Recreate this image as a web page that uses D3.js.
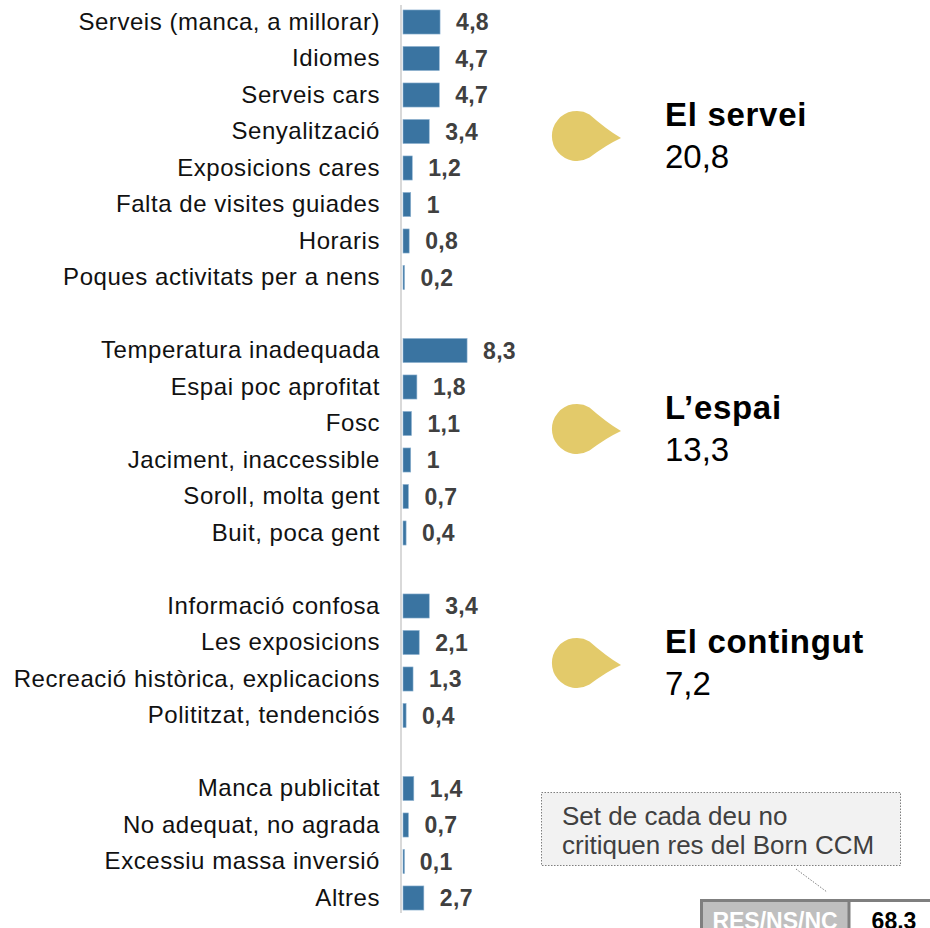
<!DOCTYPE html>
<html>
<head>
<meta charset="utf-8">
<script src="https://cdn.jsdelivr.net/npm/d3@7"></script>
<style>
  body { margin: 0; background: #fff; }
  svg { display: block; font-family: "Liberation Sans", Arial, sans-serif; }
</style>
</head>
<body>
<div id="chart"></div>
<script>
// data
var serveiLabels = ["Serveis (manca, a millorar)", "Idiomes", "Serveis cars", "Senyalització",
  "Exposicions cares", "Falta de visites guiades", "Horaris", "Poques activitats per a nens"];
var serveiValues = [4.8, 4.7, 4.7, 3.4, 1.2, 1, 0.8, 0.2];

var espaiLabels = ["Temperatura inadequada", "Espai poc aprofitat", "Fosc",
  "Jaciment, inaccessible", "Soroll, molta gent", "Buit, poca gent"];
var espaiValues = [8.3, 1.8, 1.1, 1, 0.7, 0.4];

var contingutLabels = ["Informació confosa", "Les exposicions",
  "Recreació històrica, explicacions", "Polititzat, tendenciós"];
var contingutValues = [3.4, 2.1, 1.3, 0.4];

var altresLabels = ["Manca publicitat", "No adequat, no agrada", "Excessiu massa inversió", "Altres"];
var altresValues = [1.4, 0.7, 0.1, 2.7];

var groupNames = ["El servei", "L\u2019espai", "El contingut"];
var groupTotals = ["20,8", "13,3", "7,2"];

var noteLines = ["Set de cada deu no", "critiquen res del Born CCM"];
var nsncLabel = "RES/NS/NC";
var nsncValue = "68.3";

var width = 930, height = 928;

var svg = d3.select("#chart").append("svg")
  .attr("width", width)
  .attr("height", height);

// build rows, a blank slot between each block
var blocks = [
  [serveiLabels, serveiValues],
  [espaiLabels, espaiValues],
  [contingutLabels, contingutValues],
  [altresLabels, altresValues]
];
var rows = [];
blocks.forEach(function (b, gi) {
  if (gi > 0) rows.push({key: "gap" + gi, label: "", value: null, group: gi});
  b[0].forEach(function (lab, i) {
    rows.push({key: "r" + gi + "_" + i, label: lab, value: b[1][i], group: gi});
  });
});
var dataRows = rows.filter(function (d) { return d.value !== null; });

var fmt = function (v) { return String(v).replace(".", ","); };

var x = d3.scaleLinear().domain([0, 10]).range([402, 402 + 77.2]);
var y = d3.scaleBand()
  .domain(rows.map(function (d) { return d.key; }))
  .range([3.75, 3.75 + rows.length * 36.5])
  .paddingInner(0.34)
  .paddingOuter(0.17);

var labelOf = {};
rows.forEach(function (d) { labelOf[d.key] = d.label; });

// left axis: gray line + category labels
var axis = svg.append("g")
  .attr("transform", "translate(401,0)")
  .call(d3.axisLeft(y)
    .tickValues(dataRows.map(function (d) { return d.key; }))
    .tickFormat(function (k) { return labelOf[k]; })
    .tickSize(0)
    .tickPadding(21));
axis.select(".domain")
  .attr("stroke", "#d9d9d9")
  .attr("stroke-width", 2)
  .attr("d", "M0,5V913");
axis.selectAll("text")
  .attr("font-size", 24)
  .attr("font-family", "Liberation Sans, Arial, sans-serif")
  .attr("letter-spacing", "0.55px")
  .attr("fill", "#111")
  .attr("dy", "0.33em");

// bars
svg.append("g").selectAll("rect")
  .data(dataRows)
  .join("rect")
  .attr("x", x(0) + 1)
  .attr("y", function (d) { return y(d.key); })
  .attr("width", function (d) { return Math.max(1.5, x(d.value) - x(0)); })
  .attr("height", y.bandwidth())
  .attr("fill", "#3a74a1")
  .attr("stroke", "#8fb3d1")
  .attr("stroke-width", 0.6);

// value labels
svg.append("g").selectAll("text")
  .data(dataRows)
  .join("text")
  .attr("x", function (d) { return x(d.value) + 17; })
  .attr("y", function (d) { return y(d.key) + y.bandwidth() / 2; })
  .attr("dy", "0.35em")
  .attr("font-size", 23)
  .attr("font-weight", "bold")
  .attr("letter-spacing", "0.3px")
  .attr("fill", "#404040")
  .text(function (d) { return fmt(d.value); });

// group markers (teardrops) + titles
var dropY = [136, 429, 663];
var cx = 577, r = 25;
var drop = "M" + 12.5 + "," + (-21.6) +
  "A" + r + "," + r + " 0 1 0 " + 12.5 + "," + 21.6 +
  "Q29,9 44,2 Q29,-7 12.5,-21.6Z";

var grp = svg.append("g").selectAll("g")
  .data(groupNames)
  .join("g")
  .attr("transform", function (d, i) { return "translate(" + cx + "," + dropY[i] + ")"; });
grp.append("path")
  .attr("d", drop)
  .attr("fill", "#e3ca6a");
grp.append("text")
  .attr("x", 665 - cx)
  .attr("y", -10)
  .attr("font-size", 33)
  .attr("font-weight", "bold")
  .attr("letter-spacing", "0.7px")
  .attr("fill", "#000")
  .text(function (d) { return d; });
grp.append("text")
  .attr("x", 665 - cx)
  .attr("y", 32)
  .attr("font-size", 33)
  .attr("fill", "#000")
  .text(function (d, i) { return groupTotals[i]; });

// note box
svg.append("rect")
  .attr("x", 541.5).attr("y", 792.5)
  .attr("width", 359).attr("height", 73)
  .attr("fill", "#f2f2f2")
  .attr("stroke", "#7f7f7f")
  .attr("stroke-width", 1)
  .attr("stroke-dasharray", "1.5,1.5");
svg.append("g").selectAll("text")
  .data(noteLines)
  .join("text")
  .attr("x", 562)
  .attr("y", function (d, i) { return 825 + i * 29; })
  .attr("font-size", 26)
  .attr("fill", "#404040")
  .text(function (d) { return d; });
svg.append("line")
  .attr("x1", 796).attr("y1", 869)
  .attr("x2", 827).attr("y2", 892)
  .attr("stroke", "#7f7f7f")
  .attr("stroke-width", 1)
  .attr("stroke-dasharray", "1.5,1.5");

// RES/NS/NC box
svg.append("rect")
  .attr("x", 701.5).attr("y", 900.5)
  .attr("width", 147).attr("height", 40)
  .attr("fill", "#bfbfbf");
svg.append("rect")
  .attr("x", 701.5).attr("y", 900.5)
  .attr("width", 240).attr("height", 40)
  .attr("fill", "none")
  .attr("stroke", "#7f7f7f")
  .attr("stroke-width", 3);
svg.append("line")
  .attr("x1", 849).attr("y1", 900)
  .attr("x2", 849).attr("y2", 928)
  .attr("stroke", "#7f7f7f")
  .attr("stroke-width", 3);
svg.append("text")
  .attr("x", 775).attr("y", 929)
  .attr("text-anchor", "middle")
  .attr("font-size", 23)
  .attr("font-weight", "bold")
  .attr("fill", "#fff")
  .text(nsncLabel);
svg.append("text")
  .attr("x", 894).attr("y", 929)
  .attr("text-anchor", "middle")
  .attr("font-size", 23)
  .attr("font-weight", "bold")
  .attr("fill", "#000")
  .text(nsncValue);
</script>
</body>
</html>
